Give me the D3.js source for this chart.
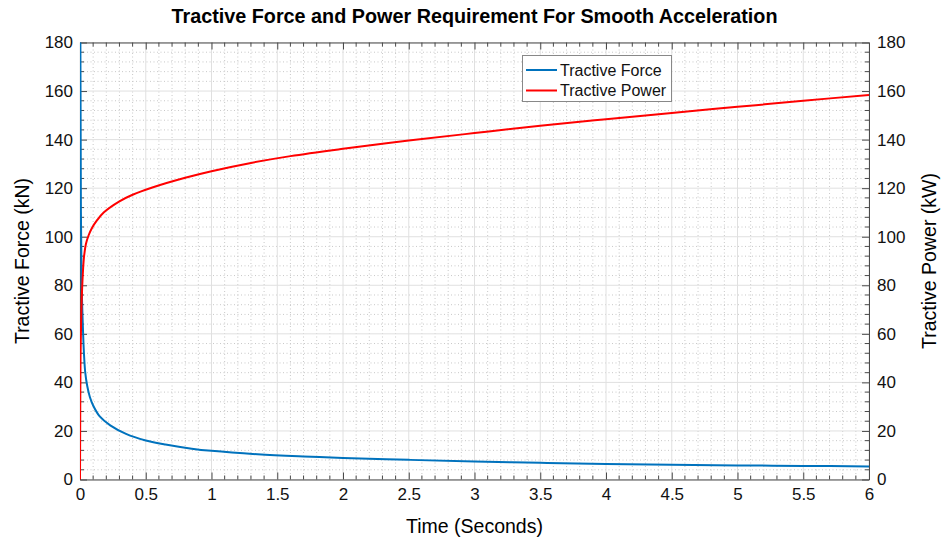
<!DOCTYPE html>
<html>
<head>
<meta charset="utf-8">
<script src="https://cdn.jsdelivr.net/npm/d3@7"></script>
<style>
  html, body { margin: 0; padding: 0; background: #fff; }
  svg { display: block; font-family: "Liberation Sans", Arial, Helvetica, sans-serif; }
</style>
</head>
<body>
<svg id="chart" width="941" height="541"></svg>
<script>
// Time samples (s) and tractive force (kN)
const forceTime = [0, 0.003, 0.007, 0.012, 0.02, 0.03, 0.04, 0.055, 0.075, 0.1, 0.15, 0.23, 0.35, 0.5, 0.65, 0.85, 1.0, 1.35, 1.7, 2.0, 2.5, 3.0, 3.5, 4.0, 4.5, 5.0, 5.5, 6.0];
const forceKN   = [400, 180, 110, 82, 66, 52, 44, 38.5, 34, 30.5, 26, 22.3, 18.8, 16.1, 14.4, 12.7, 11.8, 10.4, 9.5, 8.9, 8.1, 7.4, 6.9, 6.4, 6.05, 5.8, 5.6, 5.4];

// Time samples (s) and tractive power (kW)
const powerTime = [0, 0.002, 0.004, 0.007, 0.011, 0.018, 0.03, 0.045, 0.065, 0.09, 0.13, 0.18, 0.3, 0.4, 0.55, 0.8, 1.0, 1.3, 1.6, 2.0, 2.5, 3.0, 3.5, 4.0, 4.5, 5.0, 5.5, 6.0];
const powerKW   = [0, 30, 50, 60, 70, 81, 91.5, 97, 100.5, 103.5, 106.8, 110, 114.6, 117.3, 120.3, 124.3, 127.0, 130.4, 133.2, 136.2, 139.6, 142.7, 145.7, 148.4, 151, 153.5, 156, 158.4];

const xTicks = [0, 0.5, 1, 1.5, 2, 2.5, 3, 3.5, 4, 4.5, 5, 5.5, 6];
const yTicks = [0, 20, 40, 60, 80, 100, 120, 140, 160, 180];
const legendLabels = ["Tractive Force", "Tractive Power"];
const seriesColors = ["#0072BD", "#FF0000"];

const svg = d3.select("#chart");
const L = 80, R = 869, T = 42.5, B = 479.5;

const x = d3.scaleLinear().domain([0, 6]).range([L, R]);
const yLeft = d3.scaleLinear().domain([0, 180]).range([B, T]);
const yRight = d3.scaleLinear().domain([0, 180]).range([B, T]);

// Minor grid (dotted)
const xMinor = d3.range(0, 61).map(i => i / 10).filter(v => Math.abs(v * 2 - Math.round(v * 2)) > 1e-6);
const yMinor = d3.range(0, 181, 4).filter(v => v % 20 !== 0);

const grid = svg.append("g");
grid.selectAll(".xmin").data(xMinor).join("line")
  .attr("x1", d => x(d)).attr("x2", d => x(d)).attr("y1", T).attr("y2", B)
  .attr("stroke", "#c8c8c8").attr("stroke-width", 1).attr("stroke-dasharray", "1,2.5");
grid.selectAll(".ymin").data(yMinor).join("line")
  .attr("x1", L).attr("x2", R).attr("y1", d => yLeft(d)).attr("y2", d => yLeft(d))
  .attr("stroke", "#c8c8c8").attr("stroke-width", 1).attr("stroke-dasharray", "1,2.5");

// Major grid
grid.selectAll(".xmaj").data(xTicks).join("line")
  .attr("x1", d => x(d)).attr("x2", d => x(d)).attr("y1", T).attr("y2", B)
  .attr("stroke", "#e0e0e0").attr("stroke-width", 1);
grid.selectAll(".ymaj").data(yTicks).join("line")
  .attr("x1", L).attr("x2", R).attr("y1", d => yLeft(d)).attr("y2", d => yLeft(d))
  .attr("stroke", "#e0e0e0").attr("stroke-width", 1);

// Clip to plot area
svg.append("defs").append("clipPath").attr("id", "plotClip")
  .append("rect").attr("x", L).attr("y", T).attr("width", R - L).attr("height", B - T);

const forceLine = d3.line()
  .x((d, i) => x(forceTime[i])).y(d => yLeft(d))
  .curve(d3.curveCatmullRom.alpha(0.5));
const powerLine = d3.line()
  .x((d, i) => x(powerTime[i])).y(d => yRight(d))
  .curve(d3.curveCatmullRom.alpha(0.5));

// Axes box with inward ticks
const axisColor = "#4a4a4a";
const fontSize = 17;

const bottomAxis = d3.axisBottom(x).tickValues(xTicks).tickSizeInner(-7).tickSizeOuter(0)
  .tickPadding(8).tickFormat(d3.format("~g"));
const topAxis = d3.axisTop(x).tickValues(xTicks).tickSizeInner(-7).tickSizeOuter(0).tickFormat("");
const leftAxis = d3.axisLeft(yLeft).tickValues(yTicks).tickSizeInner(-7).tickSizeOuter(0).tickPadding(7);
const rightAxis = d3.axisRight(yRight).tickValues(yTicks).tickSizeInner(-7).tickSizeOuter(0).tickPadding(8);

function styleAxis(g) {
  g.select(".domain").attr("stroke", axisColor);
  g.selectAll(".tick line").attr("stroke", axisColor);
  g.selectAll(".tick text").attr("fill", "#111").attr("font-size", fontSize)
    .attr("font-family", "Liberation Sans, Arial, sans-serif");
}

// Minor ticks along each side of the box
function minorTicks(g, vals, orient) {
  g.selectAll(".mt").data(vals).join("line")
    .attr("stroke", axisColor)
    .each(function (d) {
      const s = d3.select(this);
      if (orient === "bottom") s.attr("x1", x(d)).attr("x2", x(d)).attr("y1", B).attr("y2", B - 4);
      if (orient === "top") s.attr("x1", x(d)).attr("x2", x(d)).attr("y1", T).attr("y2", T + 4);
      if (orient === "left") s.attr("x1", L).attr("x2", L + 4).attr("y1", yLeft(d)).attr("y2", yLeft(d));
      if (orient === "right") s.attr("x1", R).attr("x2", R - 4).attr("y1", yRight(d)).attr("y2", yRight(d));
    });
}

const axes = svg.append("g");
axes.append("g").attr("transform", `translate(0,${B})`).call(bottomAxis).call(styleAxis);
axes.append("g").attr("transform", `translate(0,${T})`).call(topAxis).call(styleAxis);
axes.append("g").attr("transform", `translate(${L},0)`).call(leftAxis).call(styleAxis);
axes.append("g").attr("transform", `translate(${R},0)`).call(rightAxis).call(styleAxis);
minorTicks(axes.append("g"), xMinor, "bottom");
minorTicks(axes.append("g"), xMinor, "top");
minorTicks(axes.append("g"), yMinor, "left");
minorTicks(axes.append("g"), yMinor, "right");

// Data curves, drawn above the axis box so the steep start stays visible
const plot = svg.append("g").attr("clip-path", "url(#plotClip)");
plot.append("path").datum(forceKN).attr("d", forceLine)
  .attr("fill", "none").attr("stroke", seriesColors[0]).attr("stroke-width", 2);
plot.append("path").datum(powerKW).attr("d", powerLine)
  .attr("fill", "none").attr("stroke", seriesColors[1]).attr("stroke-width", 2);

// Title and axis labels
svg.append("text").attr("x", (L + R) / 2).attr("y", 23)
  .attr("text-anchor", "middle").attr("font-weight", "bold").attr("font-size", 19.8)
  .attr("fill", "#000").text("Tractive Force and Power Requirement For Smooth Acceleration");

svg.append("text").attr("x", (L + R) / 2).attr("y", 533)
  .attr("text-anchor", "middle").attr("font-size", 19.5).attr("fill", "#000")
  .text("Time (Seconds)");

svg.append("text").attr("transform", `translate(29,${(T + B) / 2}) rotate(-90)`)
  .attr("text-anchor", "middle").attr("font-size", 19.5).attr("fill", "#000")
  .text("Tractive Force (kN)");

svg.append("text").attr("transform", `translate(936,${(T + B) / 2}) rotate(-90)`)
  .attr("text-anchor", "middle").attr("font-size", 19.5).attr("fill", "#000")
  .text("Tractive Power (kW)");

// Legend
const lg = svg.append("g");
lg.append("rect").attr("x", 522.5).attr("y", 55.5).attr("width", 149).attr("height", 46)
  .attr("fill", "#fff").attr("stroke", "#888").attr("stroke-width", 1);
legendLabels.forEach((lab, i) => {
  const yy = 70 + i * 20.5;
  lg.append("line").attr("x1", 526).attr("x2", 557).attr("y1", yy).attr("y2", yy)
    .attr("stroke", seriesColors[i]).attr("stroke-width", 2);
  lg.append("text").attr("x", 560).attr("y", yy).attr("dy", "0.36em")
    .attr("font-size", 16).attr("fill", "#111").text(lab);
});
</script>
</body>
</html>
